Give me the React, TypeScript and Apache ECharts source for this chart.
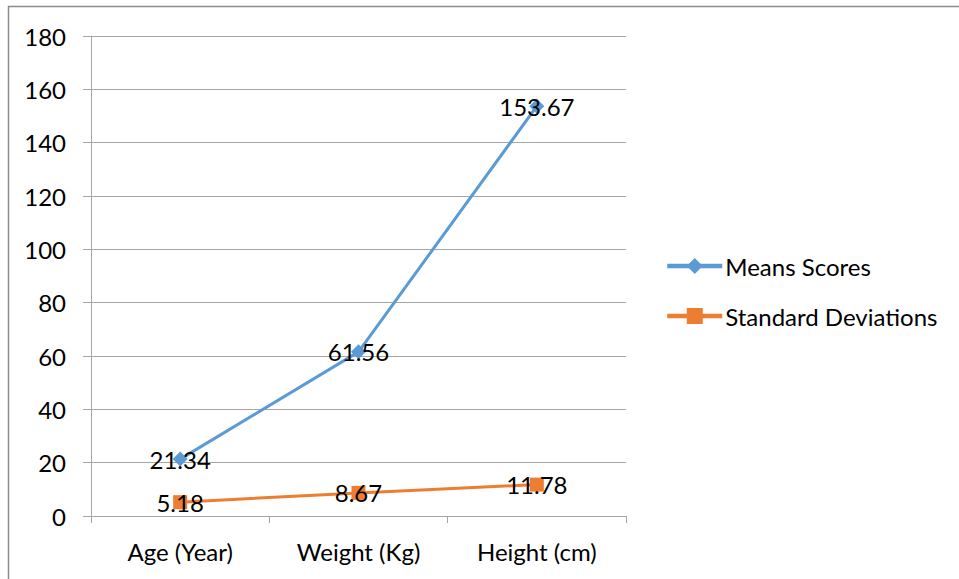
import React, { useEffect, useRef } from "react";
import * as echarts from "echarts";

const categories = ["Age (Year)", "Weight (Kg)", "Height (cm)"];
const meansScores = [21.34, 61.56, 153.67];
const standardDeviations = [5.18, 8.67, 11.78];
const yTicks = { min: 0, max: 180, interval: 20 };

const FONT = "Lato, 'Open Sans', sans-serif";
const FONT_SIZE = 24;
const GRID_COLOR = "#A6A6A6";

export default function App() {
  const ref = useRef<HTMLDivElement>(null);

  useEffect(() => {
    if (!ref.current) return;
    const chart = echarts.init(ref.current, undefined, { renderer: "svg" });
    const labelStyle = {
      show: true,
      position: "inside" as const,
      color: "#000",
      fontSize: FONT_SIZE,
      fontFamily: FONT,
      formatter: (p: any) => Number(p.value).toFixed(2),
    };
    chart.setOption({
      animation: false,
      backgroundColor: "#fff",
      graphic: [
        {
          type: "rect",
          shape: { x: 8.5, y: 6.5, width: 980, height: 600 },
          style: { fill: "none", stroke: "#8C8C8C", lineWidth: 1.5 },
          silent: true,
        },
      ],
      grid: { left: 91, top: 36, width: 535, height: 480 },
      legend: {
        orient: "vertical",
        left: 665,
        top: 254,
        padding: 0,
        itemWidth: 55,
        itemHeight: 20,
        itemGap: 26,
        lineStyle: { width: 4.5 },
        textStyle: { fontSize: FONT_SIZE, fontFamily: FONT, color: "#000", padding: [0, 0, 0, -2] },
        data: ["Means Scores", "Standard Deviations"],
      },
      xAxis: {
        type: "category",
        data: categories,
        boundaryGap: true,
        axisLine: { lineStyle: { color: GRID_COLOR, width: 1 } },
        axisTick: { show: true, length: 7, lineStyle: { color: GRID_COLOR } },
        axisLabel: { color: "#000", fontSize: FONT_SIZE, fontFamily: FONT, margin: 23 },
      },
      yAxis: {
        type: "value",
        min: yTicks.min,
        max: yTicks.max,
        interval: yTicks.interval,
        axisLine: { show: true, lineStyle: { color: GRID_COLOR, width: 1 } },
        axisTick: { show: true, length: 8, lineStyle: { color: GRID_COLOR } },
        axisLabel: { color: "#000", fontSize: FONT_SIZE, fontFamily: FONT, margin: 25 },
        splitLine: { lineStyle: { color: GRID_COLOR, width: 1 } },
      },
      series: [
        {
          name: "Means Scores",
          type: "line",
          data: meansScores,
          color: "#5B9BD5",
          lineStyle: { width: 3, color: "#5B9BD5" },
          symbol: "diamond",
          symbolSize: 15,
          itemStyle: { color: "#5B9BD5" },
          label: labelStyle,
        },
        {
          name: "Standard Deviations",
          type: "line",
          data: standardDeviations,
          color: "#ED7D31",
          lineStyle: { width: 3, color: "#ED7D31" },
          symbol: "rect",
          symbolSize: 14,
          itemStyle: { color: "#ED7D31" },
          label: labelStyle,
        },
      ],
    });
    return () => chart.dispose();
  }, []);

  return (
    <div
      ref={ref}
      style={{ position: "absolute", left: 0, top: 0, width: 959, height: 579 }}
    />
  );
}
